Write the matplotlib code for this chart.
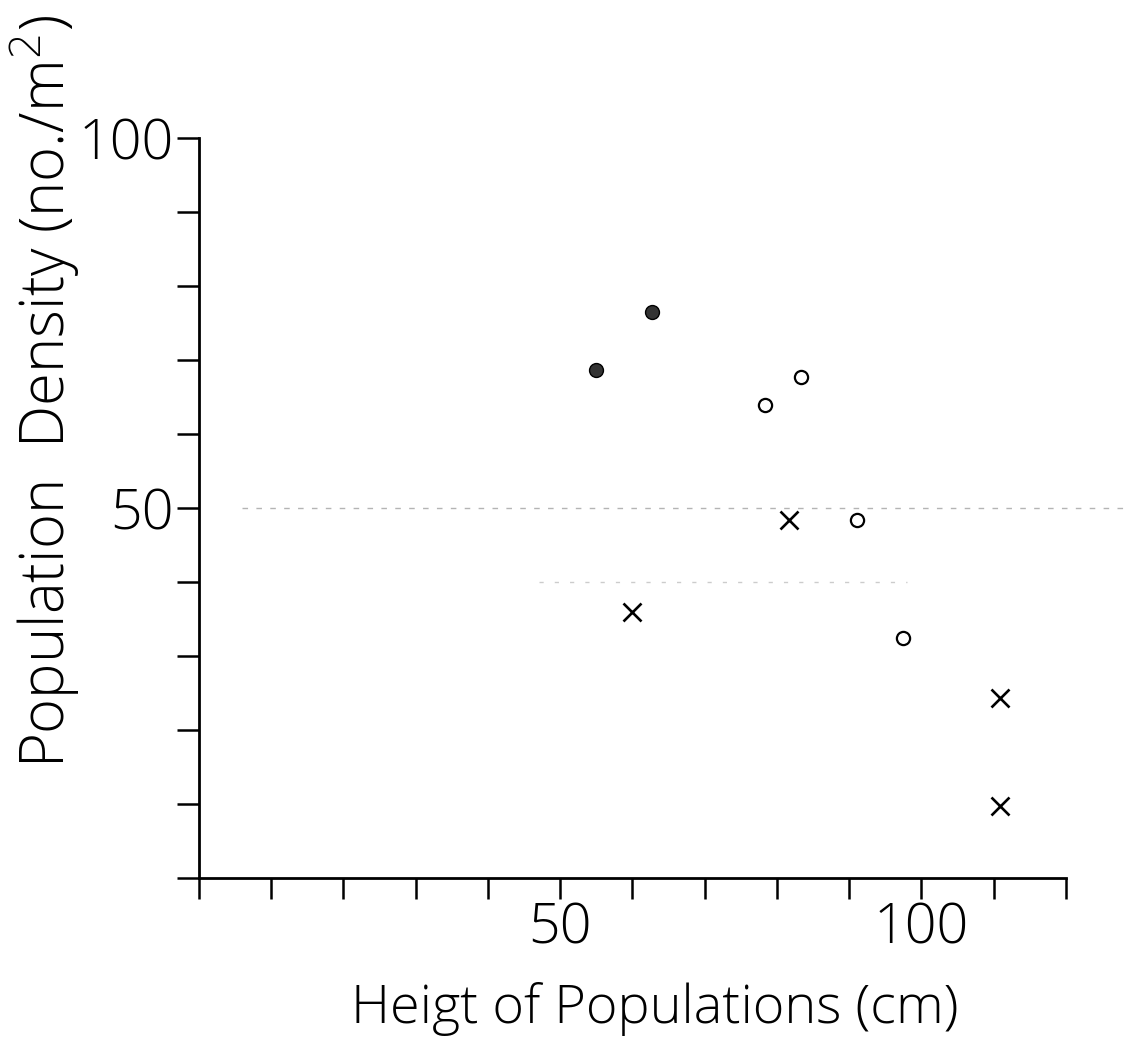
import matplotlib
matplotlib.use('Agg')
import matplotlib.pyplot as plt
from matplotlib.ticker import MultipleLocator

# data
filled_x = [55.0, 62.7]
filled_y = [68.6, 76.5]
open_x = [78.3, 83.3, 91.1, 97.5]
open_y = [63.9, 67.7, 48.4, 32.4]
cross_x = [60.0, 81.6, 110.8, 110.8]
cross_y = [35.9, 48.4, 24.3, 9.7]

plt.rcParams['font.family'] = ['Open Sans', 'DejaVu Sans']
plt.rcParams['font.weight'] = 'light'

W, H = 1128, 1038
fig = plt.figure(figsize=(W / 100, H / 100), dpi=100)
ax = fig.add_axes([199 / W, 1 - 878 / H, (1066 - 199) / W, (878 - 138) / H])

# faint dashed guide lines left over in the scan
ax.plot([6, 130], [50, 50], color='#b4b4b4', lw=1, ls=(0, (4, 6)), zorder=0, clip_on=False)
ax.plot([47, 98], [40, 40], color='#cccccc', lw=1, ls=(0, (3, 8)), zorder=0)

ax.plot(filled_x, filled_y, 'o', ms=10, color='#333333', mec='black', mew=1)
ax.plot(open_x, open_y, 'o', ms=9.5, mfc='white', mec='black', mew=1.6)
ax.plot(cross_x, cross_y, 'x', ms=13.5, color='black', mew=1.9)

ax.set_xlim(0, 120)
ax.set_ylim(0, 100)
ax.spines['top'].set_visible(False)
ax.spines['right'].set_visible(False)
for s in ['left', 'bottom']:
    ax.spines[s].set_linewidth(2)

ax.set_xticks([50, 100])
ax.set_xticklabels(['50', '100'])
ax.set_yticks([50, 100])
ax.set_yticklabels(['50', '100'])
ax.xaxis.set_minor_locator(MultipleLocator(10))
ax.yaxis.set_minor_locator(MultipleLocator(10))
ax.tick_params(which='both', direction='out', length=15, width=1.8)
ax.tick_params(which='major', labelsize=40)
ax.tick_params(axis='x', which='major', pad=2)
ax.tick_params(axis='y', which='both', length=16)
ax.tick_params(axis='y', which='major', pad=2)

fig.text(655 / W, 1 - 1023 / H, 'Heigt of Populations (cm)', fontsize=39,
         ha='center', va='baseline')
fig.text(45 / W, 1 - 391 / H, 'Population  Density (no./m$^2$)', fontsize=43,
         ha='center', va='center', rotation=90)

fig.savefig('out.png', dpi=100)
